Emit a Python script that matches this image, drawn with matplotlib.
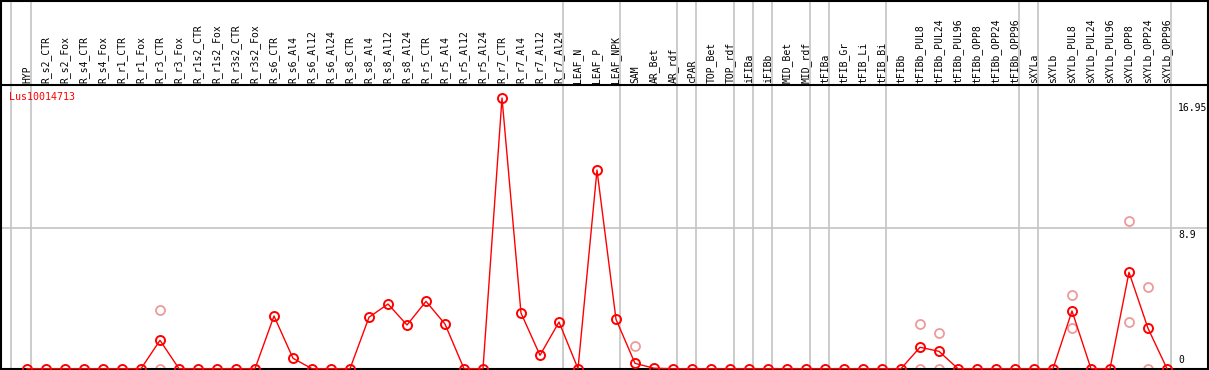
import matplotlib
matplotlib.use("Agg")
import matplotlib.pyplot as plt
import matplotlib.transforms as mtransforms
from matplotlib.lines import Line2D

categories = [
    "HYP", "R_s2_CTR", "R_s2_Fox", "R_s4_CTR", "R_s4_Fox", "R_r1_CTR", "R_r1_Fox",
    "R_r3_CTR", "R_r3_Fox", "R_r1s2_CTR", "R_r1s2_Fox", "R_r3s2_CTR", "R_r3s2_Fox",
    "R_s6_CTR", "R_s6_Al4", "R_s6_Al12", "R_s6_Al24", "R_s8_CTR", "R_s8_Al4",
    "R_s8_Al12", "R_s8_Al24", "R_r5_CTR", "R_r5_Al4", "R_r5_Al12", "R_r5_Al24",
    "R_r7_CTR", "R_r7_Al4", "R_r7_Al12", "R_r7_Al24", "LEAF_N", "LEAF_P", "LEAF_NPK",
    "SAM", "AR_Bet", "AR_rdf", "cPAR", "TOP_Bet", "TOP_rdf", "iFIBa", "iFIBb",
    "MID_Bet", "MID_rdf", "tFIBa", "tFIB_Gr", "tFIB_Li", "tFIB_Bi", "tFIBb",
    "tFIBb_PUL8", "tFIBb_PUL24", "tFIBb_PUL96", "tFIBb_OPP8", "tFIBb_OPP24",
    "tFIBb_OPP96", "sXYLa", "sXYLb", "sXYLb_PUL8", "sXYLb_PUL24", "sXYLb_PUL96",
    "sXYLb_OPP8", "sXYLb_OPP24", "sXYLb_OPP96",
]

mean_values = [
    0, 0, 0, 0, 0, 0, 0,
    1.80, 0, 0, 0, 0, 0,
    3.34, 0.66, 0, 0, 0, 3.26,
    4.10, 2.77, 4.27, 2.83, 0, 0,
    17.16, 3.53, 0.85, 2.96, 0, 12.59, 3.13,
    0.34, 0.03, 0, 0, 0, 0, 0, 0,
    0, 0, 0, 0, 0, 0, 0,
    1.36, 1.10, 0, 0, 0,
    0, 0, 0, 3.66, 0, 0,
    6.11, 2.56, 0,
]

# individual replicate values that are visible apart from the mean
replicate_categories = [
    "R_r3_CTR", "R_r3_CTR", "SAM", "tFIBb_PUL8", "tFIBb_PUL8",
    "tFIBb_PUL24", "tFIBb_PUL24", "sXYLb_PUL8", "sXYLb_PUL8",
    "sXYLb_OPP8", "sXYLb_OPP8", "sXYLb_OPP24", "sXYLb_OPP24",
]
replicate_values = [
    3.72, 0, 1.46, 2.81, 0,
    2.26, 0, 4.65, 2.56,
    9.34, 2.94, 5.18, 0,
]

gene_name = "Lus10014713"
scale_labels = ["16.95", "8.9", "0"]
scale_values = [16.95, 8.9, 0]
group_separators = [-0.86, 0.2, 28.2, 31.2, 34.2, 35.2, 37.2, 38.2, 39.2,
                    41.2, 42.2, 45.2, 52.2, 53.2, 60.2]

W, H = 1209, 370
fig = plt.figure(figsize=(W / 100, H / 100), dpi=100)
fig.patch.set_facecolor("white")

ax_left, ax_right = 1.0, 1208.0
ax_top, ax_bottom = 85.0, 368.7
ax = fig.add_axes([ax_left / W, 1 - ax_bottom / H,
                   (ax_right - ax_left) / W, (ax_bottom - ax_top) / H])

step = 19.0
x0px = 27.0
ax.set_xlim((ax_left - x0px) / step, (ax_right - x0px) / step)
ppu = (368.7 - 228.3) / 8.9
ax.set_ylim(0, (ax_bottom - ax_top) / ppu)

xs = list(range(len(categories)))
idx = {c: i for i, c in enumerate(categories)}

grid_c = "#c4c4c4"
ymax_ext = 1 + (ax_top - 0) / (ax_bottom - ax_top)
for g in group_separators:
    ax.axvline(g, ymin=0, ymax=ymax_ext, color=grid_c, lw=1.2, clip_on=False, zorder=0)
ax.axhline(8.9, color=grid_c, lw=1.2, zorder=0)

rx = [idx[c] for c in replicate_categories]
ax.plot(rx, replicate_values, linestyle="none", marker="o", ms=6.5,
        mfc="none", mec="#ee9a9a", mew=1.3, clip_on=False, zorder=2)

ax.plot(xs, mean_values, color="red", lw=1.0, marker="o", ms=6.5,
        mfc="none", mec="red", mew=1.4, clip_on=False, zorder=3)

trans = mtransforms.blended_transform_factory(ax.transData, ax.transAxes)
off = 2.0 / (ax_bottom - ax_top)
for i, c in enumerate(categories):
    ax.text(i, 1 + off, c, rotation=90, ha="center", va="bottom",
            fontsize=7, family="DejaVu Sans Mono", transform=trans, color="black")

ax.text(9.3 / W * 0 + (9.3 - x0px) / step, 17.98 - (96.7 - ax_top) / ppu, gene_name,
        color="red", fontsize=7.2, family="DejaVu Sans Mono", ha="left", va="center")

label_x = (1178 - x0px) / step
for lab, v in zip(scale_labels, scale_values):
    if v == 0:
        ax.text(label_x, v + 3.5 / ppu, lab, fontsize=7, family="DejaVu Sans Mono",
                ha="left", va="bottom")
    else:
        ax.text(label_x, v - 1.2 / ppu, lab, fontsize=7, family="DejaVu Sans Mono",
                ha="left", va="top")

ax.set_xticks([])
ax.set_yticks([])
for s in ax.spines.values():
    s.set_color("black")
    s.set_linewidth(1.5)
ax.set_facecolor("none")

# outer frame lines extending over the header
fig.add_artist(Line2D([ax_left / W, ax_left / W], [1 - ax_top / H, 1], color="black", lw=1.5))
fig.add_artist(Line2D([ax_right / W, ax_right / W], [1 - ax_top / H, 1], color="black", lw=1.5))
fig.add_artist(Line2D([ax_left / W, ax_right / W], [1 - 0.5 / H, 1 - 0.5 / H], color="black", lw=1.5))

fig.savefig("out.png", dpi=100, facecolor="white")
